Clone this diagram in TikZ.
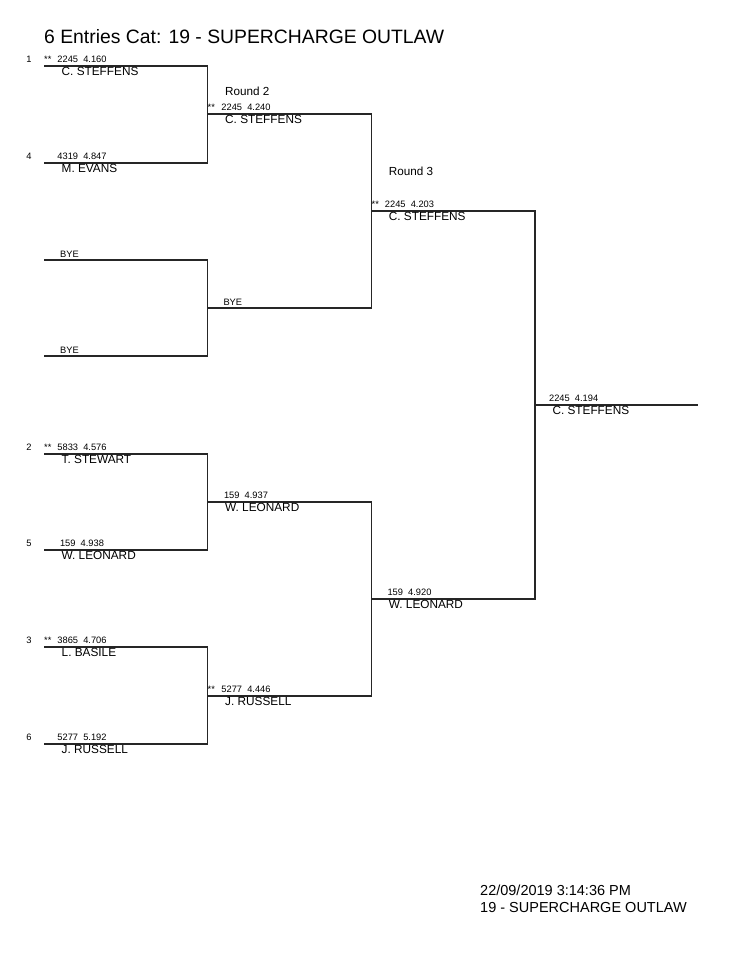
\documentclass[tikz,border=0pt]{standalone}
\usepackage{fontspec}
\setmainfont{Liberation Sans}
\begin{document}
\begin{tikzpicture}[x=1pt,y=-1pt,
  bracket/.style={line width=1.1pt, draw=black!85},
  numtxt/.style={font=\fontsize{9.3}{11}\selectfont, inner sep=0pt, anchor=base},
  startxt/.style={font=\fontsize{9.3}{11}\selectfont, inner sep=0pt, anchor=base west},
  racer/.style={font=\fontsize{11.8}{14}\selectfont, inner sep=0pt, anchor=base west},
  roundlbl/.style={font=\fontsize{11.7}{14}\selectfont, inner sep=0pt, anchor=base west},
  titletxt/.style={font=\fontsize{19.35}{23}\selectfont, inner sep=0pt, anchor=base west},
  foottxt/.style={font=\fontsize{14.5}{17}\selectfont, inner sep=0pt, anchor=base west}]
\useasboundingbox (0,0) rectangle (742,960);
\fill[white] (0,0) rectangle (742,960);

% title
\node[titletxt] (title) at (44,44) {6 Entries Cat: 19 - SUPERCHARGE OUTLAW};

% bracket coordinates
\coordinate (a1) at (44,66);    \coordinate (b1) at (207.5,66);
\coordinate (a4) at (44,163);   \coordinate (b4) at (207.5,163);
\coordinate (aB1) at (44,260);  \coordinate (bB1) at (207.5,260);
\coordinate (aB2) at (44,356);  \coordinate (bB2) at (207.5,356);
\coordinate (a2) at (44,454);   \coordinate (b2) at (207.5,454);
\coordinate (a5) at (44,550);   \coordinate (b5) at (207.5,550);
\coordinate (a3) at (44,647);   \coordinate (b3) at (207.5,647);
\coordinate (a6) at (44,744);   \coordinate (b6) at (207.5,744);

\coordinate (c1) at (207.5,114);  \coordinate (d1) at (371.5,114);
\coordinate (c2) at (207.5,308);  \coordinate (d2) at (371.5,308);
\coordinate (c3) at (207.5,502);  \coordinate (d3) at (371.5,502);
\coordinate (c4) at (207.5,696);  \coordinate (d4) at (371.5,696);

\coordinate (e1) at (371.5,211);  \coordinate (f1) at (535,211);
\coordinate (e2) at (371.5,599);  \coordinate (f2) at (535,599);

\coordinate (g1) at (535,405);    \coordinate (h1) at (698,405);

% round 1 brackets
\draw[bracket] (a1) -- (b1) -- (b4) -- (a4);
\draw[bracket] (aB1) -- (bB1) -- (bB2) -- (aB2);
\draw[bracket] (a2) -- (b2) -- (b5) -- (a5);
\draw[bracket] (a3) -- (b3) -- (b6) -- (a6);
% round 2 brackets
\draw[bracket] (c1) -- (d1) -- (d2) -- (c2);
\draw[bracket] (c3) -- (d3) -- (d4) -- (c4);
% round 3 bracket
\draw[bracket] (e1) -- (f1) -- (f2) -- (e2);
% final
\draw[bracket] (g1) -- (h1);

% round labels
\node[roundlbl] (rl2) at (225,96) {Round 2};
\node[roundlbl] (rl3) at (388.7,175.3) {Round 3};

% round 1 entries
\node[numtxt] (sd1) at (29,62.7) {1};
\node[startxt] (st1) at (44,62.7) {**};
\node[numtxt] (n1) at (82,62.7) {2245\ \ 4.160};
\node[racer] (p1) at (61.5,75.5) {C. STEFFENS};

\node[numtxt] (sd4) at (29,159.7) {4};
\node[numtxt] (n4) at (82,159.7) {4319\ \ 4.847};
\node[racer] (p4) at (61.5,172.5) {M. EVANS};

\node[startxt] (bye1) at (60,257) {BYE};
\node[startxt] (bye2) at (60,353) {BYE};

\node[numtxt] (sd2) at (29,450.7) {2};
\node[startxt] (st2) at (44,450.7) {**};
\node[numtxt] (n2) at (82,450.7) {5833\ \ 4.576};
\node[racer] (p2) at (61.5,463.5) {T. STEWART};

\node[numtxt] (sd5) at (29,546.7) {5};
\node[numtxt] (n5) at (82,546.7) {159\ \ 4.938};
\node[racer] (p5) at (61.5,559.5) {W. LEONARD};

\node[numtxt] (sd3) at (29,643.7) {3};
\node[startxt] (st3) at (44,643.7) {**};
\node[numtxt] (n3) at (82,643.7) {3865\ \ 4.706};
\node[racer] (p3) at (61.5,656.5) {L. BASILE};

\node[numtxt] (sd6) at (29,740.7) {6};
\node[numtxt] (n6) at (82,740.7) {5277\ \ 5.192};
\node[racer] (p6) at (61.5,753.5) {J. RUSSELL};

% round 2 entries
\node[startxt] (st21) at (207.5,110.7) {**};
\node[numtxt] (n21) at (246,110.7) {2245\ \ 4.240};
\node[racer] (p21) at (225,123.5) {C. STEFFENS};

\node[startxt] (bye3) at (223.3,305) {BYE};

\node[numtxt] (n23) at (246,498.7) {159\ \ 4.937};
\node[racer] (p23) at (225,511.5) {W. LEONARD};

\node[startxt] (st24) at (207.5,692.7) {**};
\node[numtxt] (n24) at (246,692.7) {5277\ \ 4.446};
\node[racer] (p24) at (225,705.5) {J. RUSSELL};

% round 3 entries
\node[startxt] (st31) at (371.5,207.7) {**};
\node[numtxt] (n31) at (409.5,207.7) {2245\ \ 4.203};
\node[racer] (p31) at (388.7,220.5) {C. STEFFENS};

\node[numtxt] (n32) at (409.5,595.7) {159\ \ 4.920};
\node[racer] (p32) at (388.7,608.5) {W. LEONARD};

% final
\node[numtxt] (n41) at (573.7,401.7) {2245\ \ 4.194};
\node[racer] (p41) at (552.3,414.5) {C. STEFFENS};

% footer
\node[foottxt] (f1t) at (480,895) {22/09/2019 3:14:36 PM};
\node[foottxt] (f2t) at (480,912) {19 - SUPERCHARGE OUTLAW};
\end{tikzpicture}
\end{document}
